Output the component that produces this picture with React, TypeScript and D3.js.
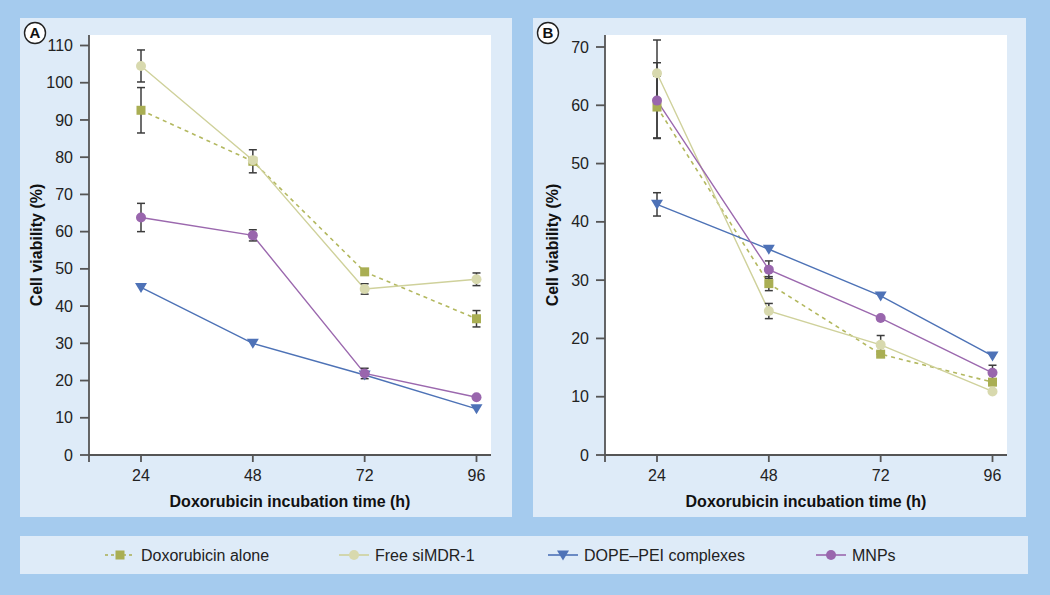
import React from 'react';
import * as d3 from 'd3';

const WIDTH = 1050;
const HEIGHT = 595;

const FONT = '"Liberation Sans", Arial, Helvetica, sans-serif';

// x categories (h)
const times = [24, 48, 72, 96];
const seriesNames = ['Doxorubicin alone', 'Free siMDR-1', 'DOPE\u2013PEI complexes', 'MNPs'];

// panel A values (%), error = +/- half-bar
const doxA = [92.6, 78.9, 49.2, 36.6];
const doxAErr = [6.1, 3.1, 0, 2.2];
const freeA = [104.5, 79.2, 44.6, 47.2];
const freeAErr = [4.3, 0, 1.4, 1.7];
const dopeA = [45.0, 30.0, 21.5, 12.4];
const dopeAErr = [0, 0, 0, 0];
const mnpA = [63.8, 59.0, 21.9, 15.5];
const mnpAErr = [3.8, 1.5, 1.4, 0];

// panel B
const doxB = [59.7, 29.4, 17.3, 12.5];
const doxBErr = [5.3, 1.2, 0, 0];
const freeB = [65.5, 24.7, 18.9, 10.9];
const freeBErr = [5.7, 1.3, 1.6, 0];
const dopeB = [43.0, 35.3, 27.3, 17.0];
const dopeBErr = [2.0, 0, 0, 0];
const mnpB = [60.8, 31.8, 23.5, 14.1];
const mnpBErr = [6.5, 1.5, 0, 1.3];

const yTicksA = [0, 10, 20, 30, 40, 50, 60, 70, 80, 90, 100, 110];
const yTicksB = [0, 10, 20, 30, 40, 50, 60, 70];

// olive, pale, blue, purple
const lineColors = ['#b3b85f', '#cfd19b', '#4d72b6', '#9b68ae'];
const fillColors = ['#a9ae53', '#d8d9ae', '#4e72b7', '#9966ad'];
const shapes = ['square', 'circle', 'triangle', 'circle'];

const BG = '#a5cbee';
const PANEL_BG = '#deebf8';
const AXIS = '#555';
const ERR = '#3c3c3c';

const Marker = ({ shape, x, y, fill }: { shape: string; x: number; y: number; fill: string }) => {
  if (shape === 'square') {
    return <rect x={x - 4.5} y={y - 4.5} width={9} height={9} fill={fill} />;
  }
  if (shape === 'triangle') {
    return <path d={`M${x - 6},${y - 4.5}L${x + 6},${y - 4.5}L${x},${y + 5.5}Z`} fill={fill} />;
  }
  return <circle cx={x} cy={y} r={5} fill={fill} />;
};

interface PanelProps {
  boxX: number;
  boxW: number;
  axisX: number;
  label: string;
  yMax: number;
  yTicks: number[];
  values: number[][];
  errors: number[][];
}

const TOP = 35;
const BOTTOM = 455;

const Panel = ({ boxX, boxW, axisX, label, yMax, yTicks, values, errors }: PanelProps) => {
  const plotRight = axisX + 402;
  const xScale = d3.scaleLinear().domain([24, 96]).range([axisX + 52, axisX + 387.5]);
  const yTopPx = yMax === 110 ? 45.5 : 47;
  const yScale = d3.scaleLinear().domain([0, yMax]).range([BOTTOM, yTopPx]);

  const line = d3
    .line<number>()
    .x((_, i) => xScale(times[i]))
    .y((d) => yScale(d));

  const midX = (axisX + plotRight) / 2;

  return (
    <g>
      <rect x={boxX} y={18} width={boxW} height={499} fill={PANEL_BG} />
      <rect x={axisX} y={TOP} width={plotRight - axisX} height={BOTTOM - TOP} fill="#fff" />

      {/* panel letter */}
      <circle cx={boxX + 15} cy={33} r={10.5} fill="#fff" stroke="#222" strokeWidth={1.4} />
      <text
        x={boxX + 15}
        y={33}
        dy="0.36em"
        textAnchor="middle"
        fontFamily={FONT}
        fontWeight="bold"
        fontSize={15}
        fill="#111"
      >
        {label}
      </text>

      {/* y axis */}
      {yTicks.map((t) => (
        <g key={`y-${t}`}>
          <line x1={axisX - 9} x2={axisX} y1={yScale(t)} y2={yScale(t)} stroke={AXIS} strokeWidth={1.8} />
          <text
            x={axisX - 16}
            y={yScale(t)}
            dy="0.35em"
            textAnchor="end"
            fontFamily={FONT}
            fontSize={16}
            fill="#222"
          >
            {t}
          </text>
        </g>
      ))}
      <line x1={axisX} x2={axisX} y1={TOP} y2={BOTTOM + 7} stroke={AXIS} strokeWidth={1.8} />

      {/* x axis */}
      <line x1={axisX} x2={plotRight} y1={BOTTOM} y2={BOTTOM} stroke={AXIS} strokeWidth={1.8} />
      {times.map((t) => (
        <g key={`x-${t}`}>
          <line x1={xScale(t)} x2={xScale(t)} y1={BOTTOM} y2={BOTTOM + 7} stroke={AXIS} strokeWidth={1.8} />
          <text x={xScale(t)} y={481} textAnchor="middle" fontFamily={FONT} fontSize={16} fill="#222">
            {t}
          </text>
        </g>
      ))}

      <text
        x={midX}
        y={507}
        textAnchor="middle"
        fontFamily={FONT}
        fontWeight="bold"
        fontSize={16}
        fill="#111"
      >
        Doxorubicin incubation time (h)
      </text>
      <text
        transform={`translate(${axisX - 47},${(TOP + BOTTOM) / 2}) rotate(-90)`}
        textAnchor="middle"
        fontFamily={FONT}
        fontWeight="bold"
        fontSize={16}
        fill="#111"
      >
        Cell viability (%)
      </text>

      {/* lines */}
      {values.map((vals, s) => (
        <path
          key={`l-${s}`}
          d={line(vals) || ''}
          fill="none"
          stroke={lineColors[s]}
          strokeWidth={s === 0 ? 1.6 : 1.4}
          strokeDasharray={s === 0 ? '4,4' : undefined}
        />
      ))}

      {/* error bars */}
      {errors.map((errs, s) =>
        errs.map((e, i) =>
          e > 0 ? (
            <g key={`e-${s}-${i}`} stroke={ERR} strokeWidth={1.5}>
              <line
                x1={xScale(times[i])}
                x2={xScale(times[i])}
                y1={yScale(values[s][i] - e)}
                y2={yScale(values[s][i] + e)}
              />
              <line
                x1={xScale(times[i]) - 4}
                x2={xScale(times[i]) + 4}
                y1={yScale(values[s][i] - e)}
                y2={yScale(values[s][i] - e)}
              />
              <line
                x1={xScale(times[i]) - 4}
                x2={xScale(times[i]) + 4}
                y1={yScale(values[s][i] + e)}
                y2={yScale(values[s][i] + e)}
              />
            </g>
          ) : null
        )
      )}

      {/* markers */}
      {values.map((vals, s) =>
        vals.map((v, i) => (
          <Marker key={`m-${s}-${i}`} shape={shapes[s]} x={xScale(times[i])} y={yScale(v)} fill={fillColors[s]} />
        ))
      )}
    </g>
  );
};

const legendMarkX = [120, 354, 563, 831];

const Legend = () => (
  <g>
    <rect x={20} y={536} width={1008} height={38} fill={PANEL_BG} />
    {seriesNames.map((name, s) => (
      <g key={name}>
        <line
          x1={legendMarkX[s] - 15}
          x2={legendMarkX[s] + 15}
          y1={555}
          y2={555}
          stroke={s === 0 ? fillColors[0] : lineColors[s]}
          strokeWidth={1.6}
          strokeDasharray={s === 0 ? '3,3' : undefined}
        />
        <Marker shape={shapes[s]} x={legendMarkX[s]} y={555} fill={fillColors[s]} />
        <text x={legendMarkX[s] + 21} y={560.5} fontFamily={FONT} fontSize={16} fill="#222">
          {name}
        </text>
      </g>
    ))}
  </g>
);

const App = () => (
  <svg
    width={WIDTH}
    height={HEIGHT}
    viewBox={`0 0 ${WIDTH} ${HEIGHT}`}
    style={{ position: 'absolute', left: 0, top: 0, display: 'block' }}
  >
    <rect x={0} y={0} width={WIDTH} height={HEIGHT} fill={BG} />
    <Panel
      boxX={20}
      boxW={492}
      axisX={89}
      label="A"
      yMax={110}
      yTicks={yTicksA}
      values={[doxA, freeA, dopeA, mnpA]}
      errors={[doxAErr, freeAErr, dopeAErr, mnpAErr]}
    />
    <Panel
      boxX={533}
      boxW={493}
      axisX={605}
      label="B"
      yMax={70}
      yTicks={yTicksB}
      values={[doxB, freeB, dopeB, mnpB]}
      errors={[doxBErr, freeBErr, dopeBErr, mnpBErr]}
    />
    <Legend />
  </svg>
);

export default App;
